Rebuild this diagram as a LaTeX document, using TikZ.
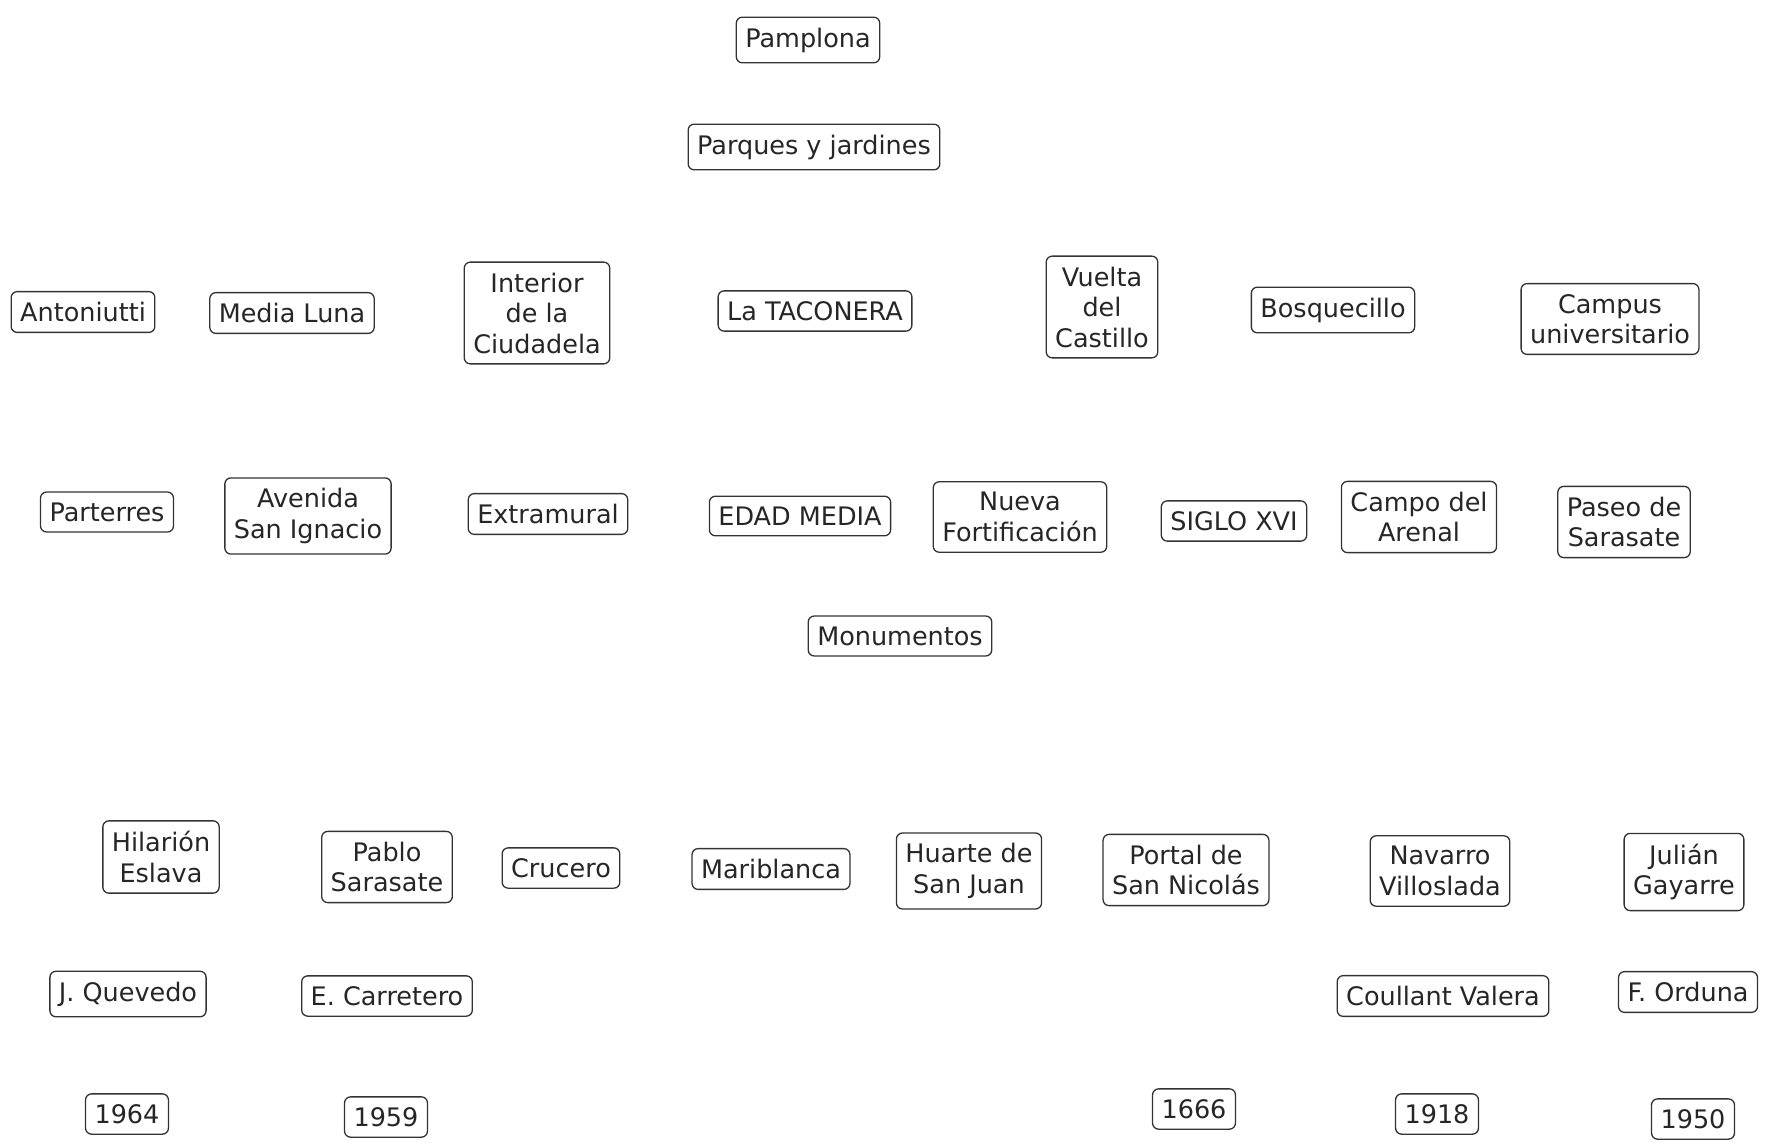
\documentclass[tikz,border=0pt]{standalone}
\usepackage{fontspec}
\setmainfont{DejaVu Sans}
\begin{document}
\begin{tikzpicture}[x=1pt,y=-1pt,
  box/.style={draw=black!80, line width=1.3pt, rounded corners=6pt, fill=white,
    align=center, inner xsep=9pt, inner ysep=10.5pt, text=black!85,
    font=\fontsize{25.5}{30.5}\selectfont}]
\useasboundingbox[fill=white] (0,0) rectangle (1775,1143);
\node[box] (pamplona) at (808,40) {Pamplona};
\node[box] (parques) at (814,147) {Parques y jardines};
% row 1
\node[box] (antoniutti) at (83,312) {Antoniutti};
\node[box] (medialuna) at (292,313) {Media Luna};
\node[box] (interior) at (537,313) {Interior\\de la\\Ciudadela};
\node[box] (taconera) at (815,311) {La TACONERA};
\node[box] (vuelta) at (1102,307) {Vuelta\\del\\Castillo};
\node[box] (bosquecillo) at (1333,310) {Bosquecillo};
\node[box] (campus) at (1610,319) {Campus\\universitario};
% row 2
\node[box] (parterres) at (107,512) {Parterres};
\node[box] (avenida) at (308,516) {Avenida\\San Ignacio};
\node[box] (extramural) at (548,514) {Extramural};
\node[box] (edadmedia) at (800,516) {EDAD MEDIA};
\node[box] (nueva) at (1020,517) {Nueva\\Fortificación};
\node[box] (siglo) at (1234,521) {SIGLO XVI};
\node[box] (campo) at (1419,517) {Campo del\\Arenal};
\node[box] (paseo) at (1624,522) {Paseo de\\Sarasate};
\node[box] (monumentos) at (900,636) {Monumentos};
% row 4
\node[box] (hilarion) at (161,857) {Hilarión\\Eslava};
\node[box] (pablo) at (387,867) {Pablo\\Sarasate};
\node[box] (crucero) at (561,868) {Crucero};
\node[box] (mariblanca) at (771,869) {Mariblanca};
\node[box] (huarte) at (969,871) {Huarte de\\San Juan};
\node[box] (portal) at (1186,870) {Portal de\\San Nicolás};
\node[box] (navarro) at (1440,871) {Navarro\\Villoslada};
\node[box] (julian) at (1684,872) {Julián\\Gayarre};
% row 5
\node[box] (quevedo) at (128,994) {J. Quevedo};
\node[box] (carretero) at (387,996) {E. Carretero};
\node[box] (coullant) at (1443,996) {Coullant Valera};
\node[box] (orduna) at (1688,992) {F. Orduna};
% row 6
\node[box] (y1964) at (127,1114) {1964};
\node[box] (y1959) at (386,1117) {1959};
\node[box] (y1666) at (1194,1109) {1666};
\node[box] (y1918) at (1437,1114) {1918};
\node[box] (y1950) at (1693,1119) {1950};
\end{tikzpicture}
\end{document}
